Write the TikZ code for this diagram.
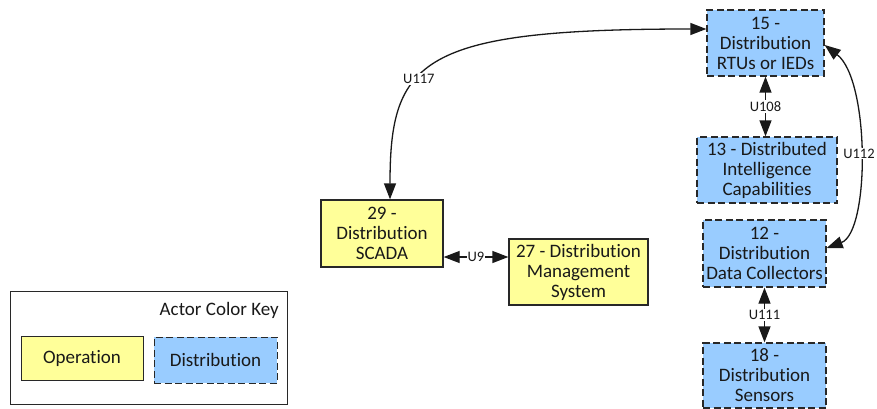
\documentclass[tikz,border=0pt]{standalone}
\usepackage{fontspec}
\setmainfont[Ligatures=NoCommon]{Carlito}
\usetikzlibrary{arrows.meta}
\definecolor{opfill}{RGB}{255,255,153}
\definecolor{distfill}{RGB}{153,204,255}
\definecolor{edge}{RGB}{40,40,40}
\tikzset{
  actor/.style={draw=edge, line width=1.3pt, align=center, inner sep=1pt,
    font=\fontsize{19}{20}\selectfont, text=black!90},
  opbox/.style={actor, fill=opfill},
  distbox/.style={actor, fill=distfill, dash pattern=on 7pt off 3.5pt},
  link/.style={line width=1.3pt, draw=black!90,
    {Triangle[length=16pt,width=12pt]}-{Triangle[length=16pt,width=12pt]}},
  lbl/.style={fill=white, inner sep=1pt, font=\fontsize{14.5}{15}\selectfont, text=black!90}
}
\begin{document}
\begin{tikzpicture}[x=1pt,y=-1pt]
\useasboundingbox (0,0) rectangle (877,409);

% actors
\node[distbox, minimum width=117pt, minimum height=66pt] (n15) at (765.5,43) {15 -\\Distribution\\RTUs or IEDs};
\node[distbox, minimum width=140pt, minimum height=66pt] (n13) at (767,170) {13 - Distributed\\Intelligence\\Capabilities};
\node[distbox, minimum width=123pt, minimum height=67pt] (n12) at (764.5,253.5) {12 -\\Distribution\\Data Collectors};
\node[distbox, minimum width=123pt, minimum height=65pt] (n18) at (764.5,375.5) {18 -\\Distribution\\Sensors};
\node[opbox, minimum width=122pt, minimum height=67pt] (n29) at (382,233.5) {29 -\\Distribution\\SCADA};
\node[opbox, minimum width=139pt, minimum height=66pt] (n27) at (578.5,272) {27 - Distribution\\Management\\System};

% interfaces
\draw[link] ([xshift=8pt]n29.north) .. controls (390,60) and (420,29) .. (n15.west |- 0,29)
  node[lbl, pos=0.4] {U117};
\draw[link] ([yshift=-23.5pt]n29.east) -- ([yshift=15pt]n27.west)
  node[lbl, midway] {U9};
\draw[link] (n15.south) -- (n15.south |- n13.north)
  node[lbl, midway] {U108};
\draw[link] ([yshift=-2pt]n15.east) .. controls (870,80) and (870,232) .. ([yshift=5.5pt]n12.east)
  node[lbl, midway] {U112};
\draw[link] (n12.south) -- (n18.north)
  node[lbl, midway] {U111};

% colour key
\node[draw=edge, line width=1pt, minimum width=277pt, minimum height=113pt, inner sep=0pt] (key) at (148.5,347.5) {};
\node[font=\fontsize{19}{20}\selectfont, text=black!90, anchor=east, inner sep=0pt] (keytitle) at (279,310) {Actor Color Key};
\node[opbox, line width=1pt, minimum width=122pt, minimum height=44pt] (keyop) at (82,358) {Operation};
\node[distbox, line width=1pt, minimum width=123pt, minimum height=46pt] (keydist) at (215.5,360) {Distribution};
\end{tikzpicture}
\end{document}
